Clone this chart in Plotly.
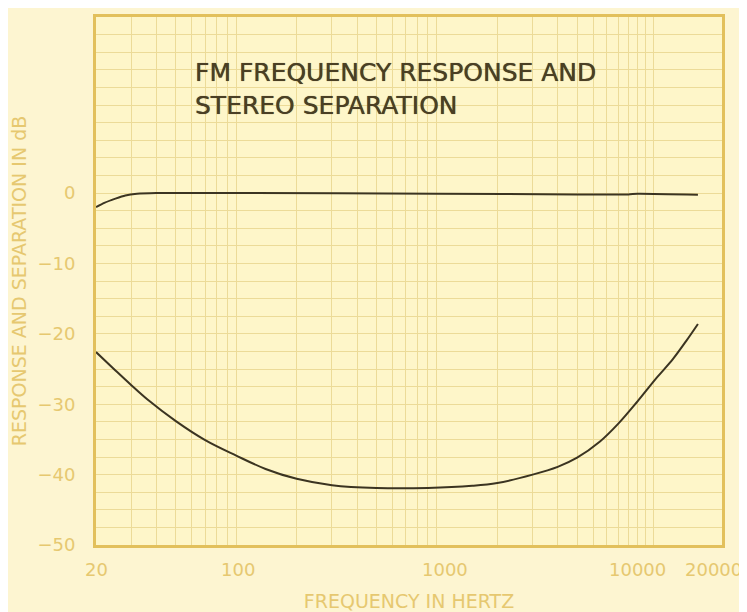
import math
import plotly.graph_objects as go

# ---- data ----
resp_freq = [20, 22, 25, 28, 32, 40, 100, 1000, 5000, 9000, 10000, 20000]
resp_db = [-2.0, -1.4, -0.8, -0.35, -0.1, 0.0, 0.0, -0.1, -0.2, -0.2, -0.1, -0.25]

sep_freq = [20, 25, 30, 36, 50, 70, 100, 140, 200, 300, 500, 900, 1500, 2000,
            3000, 4000, 5000, 6500, 8000, 10000, 12500, 15000, 17500, 20000]
sep_db = [-22.6, -25.2, -27.3, -29.3, -32.4, -35.1, -37.3, -39.2, -40.6, -41.5,
          -41.9, -41.9, -41.6, -41.2, -40.0, -38.9, -37.6, -35.3, -32.8, -29.6,
          -26.2, -23.6, -21.0, -18.6]

x_tick_vals = [20, 100, 1000, 10000, 20000]
x_tick_text = ["20", "100", "1000", "10000", "20000"]
x_tick_shift = [0, 2, 8, 0, 16]   # hand-lettered label offsets in the original (px)
x_grid_vals = ([v for v in range(20, 100, 10)] + [v for v in range(100, 1000, 100)]
               + [v for v in range(1000, 10000, 1000)] + [10000, 11000, 12000])
y_tick_vals = [0, -10, -20, -30, -40, -50]
y_grid_vals = [v * 2.5 for v in range(-20, 11)]

title_text = "FM FREQUENCY RESPONSE AND<br>STEREO SEPARATION"
x_title = "FREQUENCY IN HERTZ"
y_title = "RESPONSE AND SEPARATION IN dB"

# ---- style ----
ink = "#3b3421"
gold = "#e6c870"
border = "#e2c05c"
grid = "#ecdb98"

fig = go.Figure()
fig.add_trace(go.Scatter(x=resp_freq, y=resp_db, mode="lines",
                         line=dict(color=ink, width=2, shape="spline", smoothing=0.6),
                         showlegend=False, hoverinfo="skip"))
fig.add_trace(go.Scatter(x=sep_freq, y=sep_db, mode="lines",
                         line=dict(color=ink, width=2, shape="spline", smoothing=1.0),
                         showlegend=False, hoverinfo="skip"))

annotations = [dict(
    text=title_text, xref="paper", yref="paper", x=0.155, y=0.927,
    xanchor="left", yanchor="top", align="left", showarrow=False,
    font=dict(family="DejaVu Sans", size=25, color="#4a3f24",
              shadow="0px 0px 0.7px #4a3f24"),
)]
for v, t, s in zip(x_tick_vals, x_tick_text, x_tick_shift):
    annotations.append(dict(
        text=t, xref="x", yref="paper", x=math.log10(v), y=0,
        xanchor="center", yanchor="top", yshift=-12, xshift=s,
        showarrow=False, font=dict(family="DejaVu Sans", size=18, color=gold),
    ))

fig.update_layout(
    width=739, height=604,
    margin=dict(l=88, r=25, t=9, b=67),
    paper_bgcolor="#fdf5d1",
    plot_bgcolor="#fef6c9",
    font=dict(family="DejaVu Sans", color=gold),
    annotations=annotations,
)

fig.update_xaxes(
    type="log", range=[1.301, 4.421], automargin=False,
    tickmode="array", tickvals=x_tick_vals, ticktext=x_tick_text,
    showticklabels=False, showgrid=False, ticks="",
    minor=dict(tickmode="array", tickvals=x_grid_vals, showgrid=True,
               gridcolor=grid, gridwidth=1, ticks=""),
    showline=True, mirror=True, linecolor=border, linewidth=3,
    zeroline=False,
    title=dict(text=x_title, font=dict(size=19, color=gold), standoff=51),
)
fig.update_yaxes(
    range=[-50, 25], automargin=False,
    tickmode="array", tickvals=y_tick_vals,
    showgrid=False, ticks="", ticklabelstandoff=14,
    tickfont=dict(size=18, color=gold),
    minor=dict(tickmode="array", tickvals=y_grid_vals, showgrid=True,
               gridcolor=grid, gridwidth=1, ticks=""),
    showline=True, mirror=True, linecolor=border, linewidth=3,
    zeroline=False,
    title=dict(text=y_title, font=dict(size=19, color=gold), standoff=13),
)

fig.write_html("out.html")
